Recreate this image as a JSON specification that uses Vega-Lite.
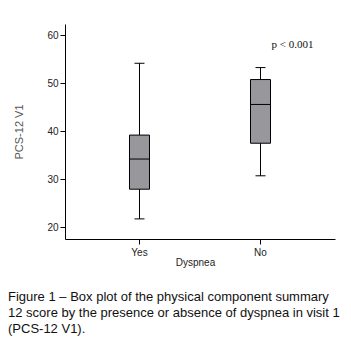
{
  "$schema": "https://vega.github.io/schema/vega-lite/v6.json",
  "autosize": {"type": "none"},
  "padding": {"left": 65, "top": 24, "right": 16, "bottom": 115},
  "width": 270,
  "height": 215,
  "background": "white",
  "title": {
    "text": ["Figure 1 – Box plot of the physical component summary", "12 score by the presence or absence of dyspnea in visit 1", "(PCS-12 V1)."],
    "orient": "bottom",
    "anchor": "start",
    "frame": "group",
    "dx": -57,
    "offset": 24,
    "font": "Liberation Sans",
    "fontSize": 13,
    "fontWeight": "normal",
    "lineHeight": 16,
    "color": "#111"
  },
  "data": {
    "values": [
      {"dyspnea": "Yes", "lower": 21.7, "q1": 27.9, "median": 34.2, "q3": 39.2, "upper": 54.2},
      {"dyspnea": "No", "lower": 30.7, "q1": 37.5, "median": 45.6, "q3": 50.8, "upper": 53.3}
    ]
  },
  "encoding": {
    "x": {
      "field": "dyspnea",
      "type": "nominal",
      "sort": ["Yes", "No"],
      "scale": {"type": "band", "domain": ["Yes", "No"], "paddingInner": 0.231, "paddingOuter": 0.231},
      "axis": {"title": "Dyspnea", "labelAngle": 0, "titlePadding": 0, "titleFontWeight": "normal", "titleFontSize": 10, "titleX": 130, "labelPadding": 3}
    }
  },
  "layer": [
    {
      "mark": {"type": "rule", "color": "black", "strokeWidth": 1},
      "encoding": {
        "y": {
          "field": "lower",
          "type": "quantitative",
          "scale": {"domain": [17.5, 62.4], "nice": false, "zero": false},
          "axis": {"title": "PCS-12 V1", "values": [20, 30, 40, 50, 60], "grid": false, "titleFontWeight": "normal", "titleFontSize": 11, "titleColor": "#555", "titlePadding": 22}
        },
        "y2": {"field": "upper"}
      }
    },
    {
      "mark": {"type": "bar", "size": 20, "fill": "#98989c", "stroke": "black", "strokeWidth": 1},
      "encoding": {
        "y": {"field": "q1", "type": "quantitative"},
        "y2": {"field": "q3"}
      }
    },
    {
      "mark": {"type": "tick", "size": 20, "thickness": 1, "color": "black", "opacity": 1},
      "encoding": {"y": {"field": "median", "type": "quantitative"}}
    },
    {
      "mark": {"type": "tick", "size": 10, "thickness": 1, "color": "black", "opacity": 1},
      "encoding": {"y": {"field": "lower", "type": "quantitative"}}
    },
    {
      "mark": {"type": "tick", "size": 10, "thickness": 1, "color": "black", "opacity": 1},
      "encoding": {"y": {"field": "upper", "type": "quantitative"}}
    },
    {
      "data": {"values": [{"dyspnea": "No", "y": 58.1, "label": "p < 0.001"}]},
      "mark": {"type": "text", "dx": 32, "font": "Liberation Serif", "fontSize": 11, "color": "#111"},
      "encoding": {
        "y": {"field": "y", "type": "quantitative"},
        "text": {"field": "label"}
      }
    }
  ],
  "config": {
    "view": {"stroke": null},
    "axis": {
      "domainColor": "black",
      "tickColor": "black",
      "tickSize": 5,
      "labelColor": "#222",
      "labelFont": "Liberation Sans",
      "labelFontSize": 10,
      "titleFont": "Liberation Sans",
      "titleColor": "#222"
    }
  }
}
